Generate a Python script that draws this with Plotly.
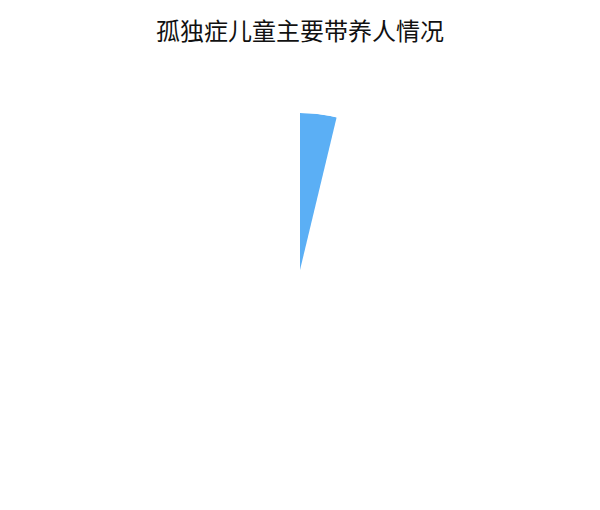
import plotly.graph_objects as go

categories = ["带养人"]
values = [157]
start_angle = [0]
span_deg = [13.5]

# page adds an 8px body margin, so the figure is drawn a bit smaller
W, H = 584, 494
cx, cy, R = 292, 262, 157

fig = go.Figure()

fig.add_trace(
    go.Barpolar(
        r=values,
        theta=[s + w / 2 for s, w in zip(start_angle, span_deg)],
        width=span_deg,
        name=categories[0],
        marker=dict(color="#5BAFF5", line=dict(width=0)),
        hoverinfo="name+r",
    )
)

fig.update_layout(
    width=W,
    height=H,
    margin=dict(l=0, r=0, t=0, b=0),
    paper_bgcolor="white",
    plot_bgcolor="white",
    showlegend=False,
    title=dict(
        text="孤独症儿童主要带养人情况",
        x=0.5,
        xanchor="center",
        y=1 - 24 / H,
        yanchor="middle",
        font=dict(family="Noto Sans CJK SC", size=24, color="#111111"),
    ),
    polar=dict(
        domain=dict(
            x=[(cx - R) / W, (cx + R) / W],
            y=[(H - cy - R) / H, (H - cy + R) / H],
        ),
        bgcolor="rgba(0,0,0,0)",
        radialaxis=dict(range=[0, max(values)], visible=False),
        angularaxis=dict(
            rotation=90,
            direction="clockwise",
            visible=False,
        ),
        hole=0,
    ),
)

fig.write_html("out.html")
